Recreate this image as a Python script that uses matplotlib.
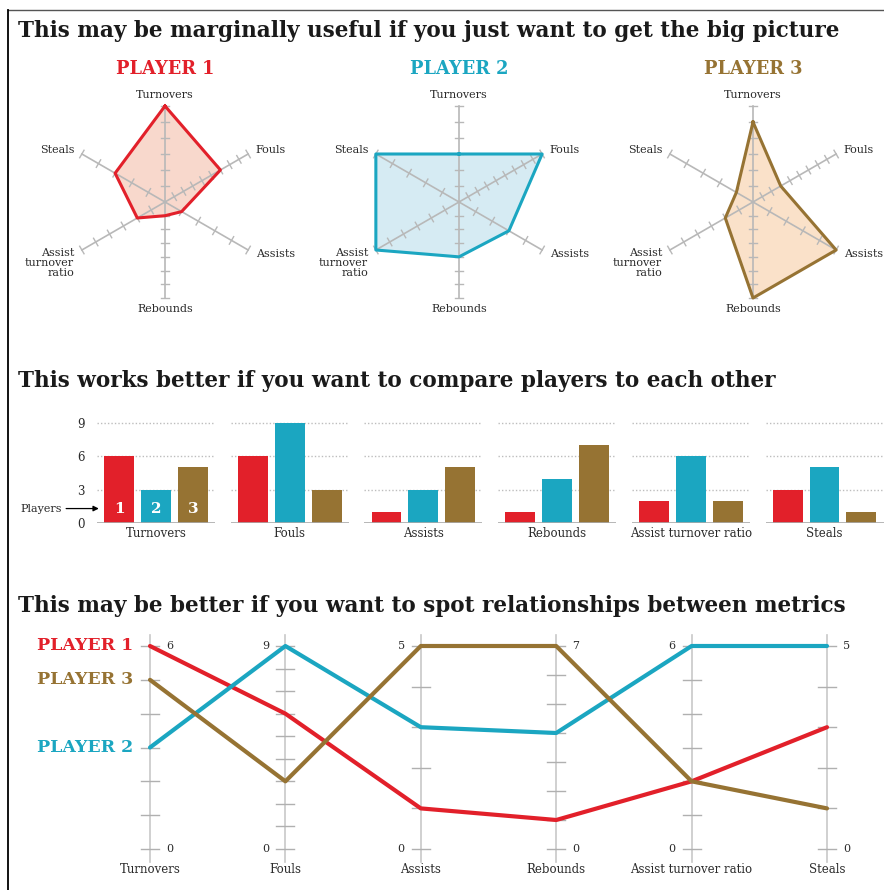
import numpy as np
import matplotlib
matplotlib.use('Agg')
import matplotlib.pyplot as plt
from matplotlib.lines import Line2D

plt.rcParams['font.family'] = 'DejaVu Serif'

metrics = ['Turnovers', 'Fouls', 'Assists', 'Rebounds', 'Assist turnover ratio', 'Steals']
radar_labels = ['Turnovers', 'Fouls', 'Assists', 'Rebounds', 'Assist\nturnover\nratio', 'Steals']
players = ['PLAYER 1', 'PLAYER 2', 'PLAYER 3']
player1 = [6, 6, 1, 1, 2, 3]
player2 = [3, 9, 3, 4, 6, 5]
player3 = [5, 3, 5, 7, 2, 1]
axis_max = [6, 9, 5, 7, 6, 5]
bar_ticks = [0, 3, 6, 9]

values = [player1, player2, player3]
colors = ['#e2202a', '#1ba6c1', '#967333']
fills = ['#f7d2c4', '#cfe8f1', '#fadcc0']
grey = '#b8b8b8'
dark = '#2b2b2b'

W, H = 884, 890
fig = plt.figure(figsize=(W / 100, H / 100), dpi=100)


def px_axes(x0, y0, w, h):
    # pixel box (top-left origin) -> figure axes
    return fig.add_axes([x0 / W, 1 - (y0 + h) / H, w / W, h / H])


titles = [('This may be marginally useful if you just want to get the big picture', 31),
          ('This works better if you want to compare players to each other', 381),
          ('This may be better if you want to spot relationships between metrics', 606)]
for t, y in titles:
    fig.text(18 / W, 1 - y / H, t, fontsize=15.5, fontweight='bold', color='#1a1a1a',
             va='center', ha='left')

# ---- radar charts ----
angles = np.deg2rad([90, 30, -30, -90, -150, 150])
R = 96.0
half = 135
for i, cx in enumerate([165, 459, 753]):
    ax = px_axes(cx - half, 202 - half, 2 * half, 2 * half)
    lim = half / R
    ax.set_xlim(-lim, lim)
    ax.set_ylim(-lim, lim)
    ax.axis('off')
    for a, m in zip(angles, axis_max):
        ax.plot([0, np.cos(a)], [0, np.sin(a)], color=grey, lw=1.2, zorder=1)
        px, py = -np.sin(a), np.cos(a)
        for k in range(1, m + 1):
            r = k / m
            x, y = r * np.cos(a), r * np.sin(a)
            ax.plot([x - 0.045 * px, x + 0.045 * px], [y - 0.045 * py, y + 0.045 * py],
                    color=grey, lw=1, zorder=1)
    r = np.array(values[i]) / np.array(axis_max)
    xs = np.append(r * np.cos(angles), r[0] * np.cos(angles[0]))
    ys = np.append(r * np.sin(angles), r[0] * np.sin(angles[0]))
    ax.fill(xs, ys, color=fills[i], alpha=0.85, zorder=0)
    ax.plot(xs, ys, color=colors[i], lw=2.2, zorder=2)
    lab = dict(fontsize=8, color=dark)
    ax.text(0, 1.06, radar_labels[0], ha='center', va='bottom', **lab)
    ax.text(0, -1.06, radar_labels[3], ha='center', va='top', **lab)
    ax.text(np.cos(angles[1]) + 0.08, np.sin(angles[1]) + 0.04, radar_labels[1], ha='left', va='center', **lab)
    ax.text(np.cos(angles[2]) + 0.08, np.sin(angles[2]) - 0.04, radar_labels[2], ha='left', va='center', **lab)
    ax.text(np.cos(angles[5]) - 0.08, np.sin(angles[5]) + 0.04, radar_labels[5], ha='right', va='center', **lab)
    ax.text(np.cos(angles[4]) - 0.08, np.sin(angles[4]) + 0.02, radar_labels[4], ha='right', va='top',
            multialignment='right', linespacing=1.0, **lab)
    ax.text(0, 1.385, players[i], ha='center', va='center', fontsize=12.8, fontweight='bold', color=colors[i])

# ---- grouped bars ----
ppu = 100 / 9.0
ytop = 9.6
for j, m in enumerate(metrics):
    x0 = 97 + j * 133.7
    ax = px_axes(x0, 523 - ytop * ppu, 118, ytop * ppu)
    ax.set_xlim(-0.6, 2.6)
    ax.set_ylim(0, ytop)
    for s in ax.spines.values():
        s.set_visible(False)
    ax.set_xticks([])
    for t in bar_ticks[1:]:
        ax.axhline(t, color='#bdbdbd', lw=1, ls=(0, (1, 1.5)), zorder=0)
    ax.axhline(0, color='#aaaaaa', lw=1.2, zorder=3)
    for i in range(3):
        ax.bar(i, values[i][j], width=0.81, color=colors[i], zorder=2)
    ax.text(1, -0.35, m, ha='center', va='top', fontsize=8.5, color=dark)
    if j == 0:
        ax.set_yticks(bar_ticks)
        ax.set_yticklabels([str(t) for t in bar_ticks], fontsize=8.5, color=dark)
        ax.tick_params(axis='y', length=0, pad=9)
        for i in range(3):
            ax.text(i, 1.3, str(i + 1), ha='center', va='center', color='white',
                    fontsize=11, fontweight='bold', zorder=4)
        ax.annotate('Players', xy=(-0.55, 1.3), xytext=(-1.55, 1.3), ha='right', va='center',
                    fontsize=8, color=dark, annotation_clip=False,
                    arrowprops=dict(arrowstyle='-|>', color='black', lw=0.9, shrinkA=1, shrinkB=0,
                                    mutation_scale=8))
    else:
        ax.set_yticks([])

# ---- parallel coordinates ----
pitch = 135.4
yscale = 203.0
ax = px_axes(100, 625, 775, 260)
ax.set_xlim((100 - 150) / pitch, (875 - 150) / pitch)
ax.set_ylim((849 - 885) / yscale, (849 - 625) / yscale)
ax.axis('off')
sides = [1, -1, -1, 1, -1, 1]
tick = 9 / pitch
for j, m in enumerate(metrics):
    ax.plot([j, j], [-0.064, 1.054], color='#c8c8c8', lw=1.2, zorder=0)
    for k in range(axis_max[j] + 1):
        v = k / axis_max[j]
        ax.plot([j - tick, j + tick], [v, v], color='#b0b0b0', lw=1, zorder=0)
    off = sides[j] * 16 / pitch
    ha = 'left' if sides[j] > 0 else 'right'
    ax.text(j + off, 1, str(axis_max[j]), ha=ha, va='center', fontsize=8, color=dark)
    ax.text(j + off, 0, '0', ha=ha, va='center', fontsize=8, color=dark)
    ax.text(j, -0.1, m, ha='center', va='center', fontsize=8.5, color=dark)

xs = np.arange(len(metrics))
for i in range(3):
    norm = np.array(values[i]) / np.array(axis_max)
    ax.plot(xs, norm, color=colors[i], lw=3, solid_capstyle='round', zorder=2)
    ax.text(-0.125, norm[0], players[i], ha='right', va='center', fontsize=12.5,
            fontweight='bold', color=colors[i])

# frame lines (top and left)
fig.add_artist(Line2D([8 / W, 1], [1 - 10 / H, 1 - 10 / H], transform=fig.transFigure, color='#555555', lw=1))
fig.add_artist(Line2D([8 / W, 8 / W], [0, 1 - 10 / H], transform=fig.transFigure, color='black', lw=1.3))

fig.savefig('out.png', dpi=100, facecolor='white')
